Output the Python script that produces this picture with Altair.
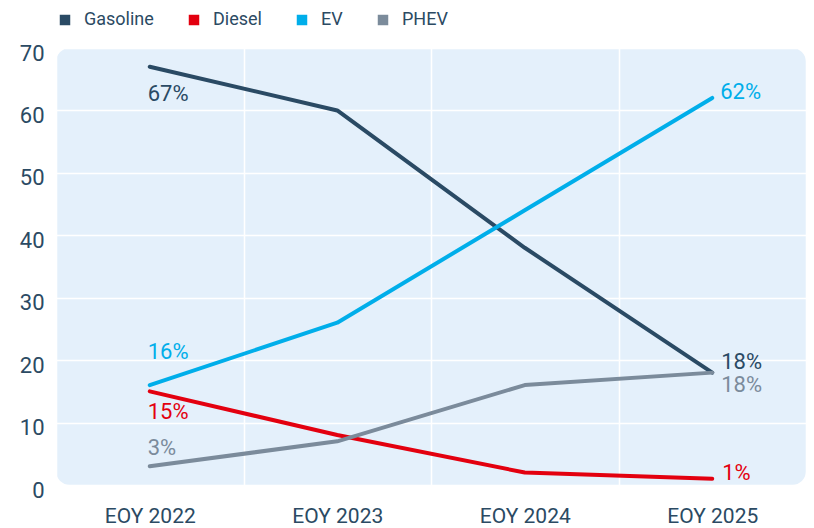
import altair as alt
import pandas as pd

years = ["EOY 2022", "EOY 2023", "EOY 2024", "EOY 2025"]
series = ["Gasoline", "Diesel", "EV", "PHEV"]
gasoline = [67, 60, 38, 18]
diesel = [15, 8, 2, 1]
ev = [16, 26, 44, 62]
phev = [3, 7, 16, 18]
colors = ["#2a4a64", "#e3000f", "#00aeea", "#7b8b9b"]

rows = []
for name, vals in zip(series, [gasoline, diesel, ev, phev]):
    for y, v in zip(years, vals):
        rows.append({"year": y, "series": name, "value": v, "label": f"{v}%"})
df = pd.DataFrame(rows)

FONT = "Roboto"
TXT = "#2b4a63"

x_enc = alt.X("year:N", sort=years, title=None,
              scale=alt.Scale(type="band", paddingInner=0, paddingOuter=0),
              axis=alt.Axis(labelAngle=0, labelFontSize=21, labelPadding=20,
                            domain=False, ticks=False, grid=True, tickBand="extent",
                            gridColor="white", gridWidth=1.5))
y_enc = alt.Y("value:Q", title=None,
              scale=alt.Scale(domain=[0, 70], nice=False),
              axis=alt.Axis(values=list(range(0, 71, 10)), labelFontSize=22,
                            labelPadding=12, labelOffset=5, domain=False, ticks=False,
                            gridColor="white", gridWidth=1.5, minExtent=48))
color_enc = alt.Color("series:N", sort=series,
                      scale=alt.Scale(domain=series, range=colors),
                      legend=alt.Legend(title=None, orient="top", direction="horizontal",
                                        symbolType="square", symbolSize=110,
                                        symbolStrokeWidth=0, labelFontSize=18,
                                        columnPadding=31, offset=19, padding=0,
                                        labelOffset=10))

base = alt.Chart(df)
lines = base.mark_line(strokeWidth=4, strokeCap="round", strokeJoin="round").encode(
    x=x_enc, y=y_enc, color=color_enc)

# label placements: (series, year, dx, dy)
placements = [
    ("Gasoline", "EOY 2022", -2, 27),
    ("Gasoline", "EOY 2025", 9, -11),
    ("EV", "EOY 2022", -2, -33),
    ("EV", "EOY 2025", 8, -6),
    ("Diesel", "EOY 2022", -2, 21),
    ("Diesel", "EOY 2025", 10, -6),
    ("PHEV", "EOY 2022", -2, -18),
    ("PHEV", "EOY 2025", 9, 12),
]
label_layers = []
for s, yr, dx, dy in placements:
    label_layers.append(
        base.transform_filter(
            (alt.datum.series == s) & (alt.datum.year == yr)
        ).mark_text(align="left", baseline="middle", dx=dx, dy=dy, fontSize=22,
                    font=FONT).encode(
            x=alt.X("year:N", sort=years), y="value:Q",
            text="label:N",
            color=alt.Color("series:N", sort=series,
                            scale=alt.Scale(domain=series, range=colors), legend=None))
    )

chart = alt.layer(lines, *label_layers).properties(
    width=750, height=437,
    padding={"left": 0, "right": 0, "top": 3, "bottom": 0},
).configure_view(
    fill="#e4f0fb", stroke=None, cornerRadius=14
).configure_axis(
    labelFont=FONT, labelColor=TXT
).configure_legend(
    labelFont=FONT, labelColor=TXT
)

chart.save("out.html", embed_options={"renderer": "svg", "actions": False})
